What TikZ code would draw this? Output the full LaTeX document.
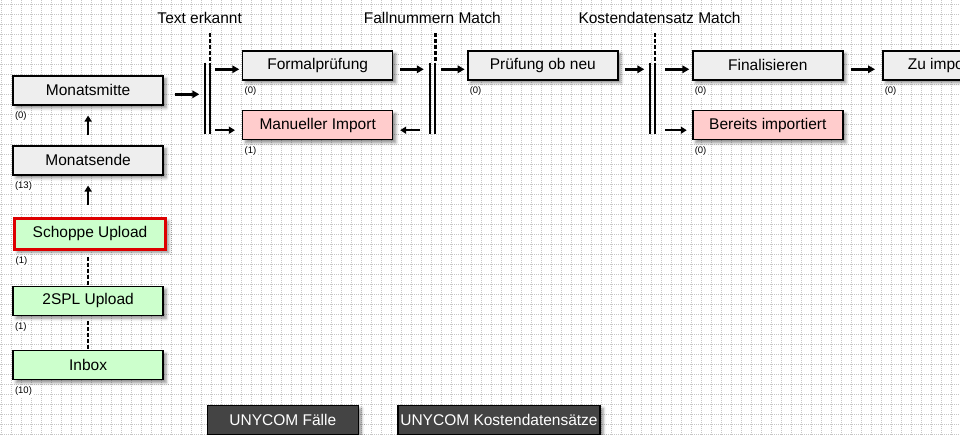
\documentclass[tikz,border=0pt]{standalone}
\usepackage{fontspec}
\setmainfont{Liberation Sans}
\usetikzlibrary{arrows.meta,shadows.blur}
\definecolor{taskgray}{HTML}{EEEEEE}
\definecolor{taskgreen}{HTML}{CCFFCC}
\definecolor{taskred}{HTML}{FFCCCC}
\definecolor{poolgray}{HTML}{444444}
\definecolor{alertred}{HTML}{DD0000}
\tikzset{
  task/.style={draw, line width=1.5pt, fill=taskgray, minimum width=150pt, minimum height=29pt,
    inner sep=0pt, font=\fontsize{15.5}{18}\selectfont,
    blur shadow={shadow xshift=3pt, shadow yshift=-3pt, shadow blur radius=3pt, shadow opacity=45}},
  green task/.style={task, fill=taskgreen},
  red task/.style={task, fill=taskred},
  pool/.style={task, fill=poolgray, text=white},
  count label/.style={fill=white, inner sep=1pt, anchor=north west, font=\fontsize{9.5}{11}\selectfont},
  gate/.style={minimum width=5.3pt, minimum height=71.3pt, inner sep=0pt, outer sep=0pt},
  gate label/.style={font=\fontsize{15.5}{18}\selectfont},
  gate bar/.style={line width=2pt},
  gate dash/.style={line width=2.5pt, dash pattern=on 4pt off 2pt},
  flow/.style={line width=2.7pt, -{Triangle[length=7pt,width=7.5pt]}},
  thin flow/.style={line width=1.7pt, -{Triangle[length=6pt,width=7pt]}},
  link/.style={line width=2.5pt, dash pattern=on 4pt off 2pt},
  grid line/.style={black!22, line width=0.6pt, dash pattern=on 1pt off 1pt},
}

\begin{document}
\begin{tikzpicture}[x=1pt, y=-1pt]

  \useasboundingbox (0,0) rectangle (960,435);
  \clip (0,0) rectangle (960,435);

  % Background grid
  \foreach \gx in {1,11,...,951}
    \draw[grid line] (\gx,0) -- (\gx,435);
  \foreach \gy in {4,14,...,434}
    \draw[grid line] (0,\gy) -- (960,\gy);

  % Left column
  \node[task] (mitte) at (88.1,90.3) {Monatsmitte};
  \node[task] (ende) at (88.1,160.3) {Monatsende};
  \node[green task, draw=alertred, line width=3pt, minimum width=151pt, minimum height=31pt]
    (schoppe) at (90,233.7) {Schoppe Upload};
  \node[green task] (spl) at (88.1,300.8) {2SPL Upload};
  \node[green task] (inbox) at (88.1,365.2) {Inbox};

  % Upper rows
  \node[task] (form) at (317.7,65.3) {Formalprüfung};
  \node[red task] (manuell) at (317.7,125.2) {Manueller Import};
  \node[task] (pruef) at (542.8,65.3) {Prüfung ob neu};
  \node[task] (final) at (767.8,65.3) {Finalisieren};
  \node[red task] (bereits) at (767.8,125.2) {Bereits importiert};
  \node[task] (zuimp) at (957.8,65.3) {Zu importieren};

  % Pools
  \node[pool, minimum width=151pt] (unyfall) at (282.8,420) {UNYCOM Fälle};
  \node[pool, minimum width=202pt] (unykost) at (499,420) {UNYCOM Kostendatensätze};

  % Counters
  \foreach \n/\c in {mitte/0, ende/13, schoppe/1, spl/1, inbox/10, form/0, manuell/1,
                     pruef/0, final/0, bereits/0, zuimp/0}
    \node[count label] (\n-n) at ([shift={(1.5,5)}]\n.south west) {(\c)};

  % Gateways
  \node[gate] (gwtext) at (207.35,98.35) {};
  \node[gate] (gwfall) at (432.8,98.35) {};
  \node[gate] (gwkost) at (652.2,98.35) {};
  \foreach \g in {gwtext,gwfall,gwkost} {
    \draw[gate bar] (\g.north west) -- (\g.south west);
    \draw[gate bar] (\g.north east) -- (\g.south east);
    \draw[gate dash] ([yshift=29.5pt]\g.north east) -- (\g.north east);
  }
  \node[gate label] (gwtext-l) at (199.7,18) {Text erkannt};
  \node[gate label] (gwfall-l) at (432.3,18) {Fallnummern Match};
  \node[gate label] (gwkost-l) at (659.5,18) {Kostendatensatz Match};

  % Flows
  \draw[thin flow, shorten <=10pt, shorten >=10pt] (ende.north) -- (mitte.south);
  \draw[thin flow, shorten <=12pt, shorten >=10pt] (schoppe.north -| ende.north) -- (ende.south);
  \draw[link, shorten <=6pt] (schoppe.south -| spl.north) -- (spl.north);
  \draw[link, shorten <=5pt] (spl.south) -- (inbox.north);

  \draw[flow, shorten <=11pt, shorten >=5.4pt] ([yshift=-4pt]mitte.east) -- ([yshift=-4pt]mitte.east -| gwtext.west);
  \draw[flow, shorten <=5pt, shorten >=2.7pt] ([yshift=-4pt]form.west -| gwtext.east) -- ([yshift=-4pt]form.west);
  \draw[thin flow, shorten <=5pt, shorten >=7pt] ([yshift=-5pt]manuell.west -| gwtext.east) -- ([yshift=-5pt]manuell.west);
  \draw[flow, shorten <=6.7pt, shorten >=6.3pt] ([yshift=-4pt]form.east) -- ([yshift=-4pt]form.east -| gwfall.west);
  \draw[flow, shorten <=5.4pt, shorten >=2.4pt] ([yshift=-4pt]pruef.west -| gwfall.east) -- ([yshift=-4pt]pruef.west);
  \draw[thin flow, shorten <=10.3pt, shorten >=6.7pt] ([yshift=-5pt]manuell.east -| gwfall.west) -- ([yshift=-5pt]manuell.east);
  \draw[flow, shorten <=6pt, shorten >=5.2pt] ([yshift=-4pt]pruef.east) -- ([yshift=-4pt]pruef.east -| gwkost.west);
  \draw[flow, shorten <=10.3pt, shorten >=2.7pt] ([yshift=-4pt]final.west -| gwkost.east) -- ([yshift=-4pt]final.west);
  \draw[thin flow, shorten <=10.3pt, shorten >=5.3pt] ([yshift=-5pt]bereits.west -| gwkost.east) -- ([yshift=-5pt]bereits.west);
  \draw[flow, shorten <=7pt, shorten >=7pt] ([yshift=-4pt]final.east) -- ([yshift=-4pt]zuimp.west);

\end{tikzpicture}
\end{document}
